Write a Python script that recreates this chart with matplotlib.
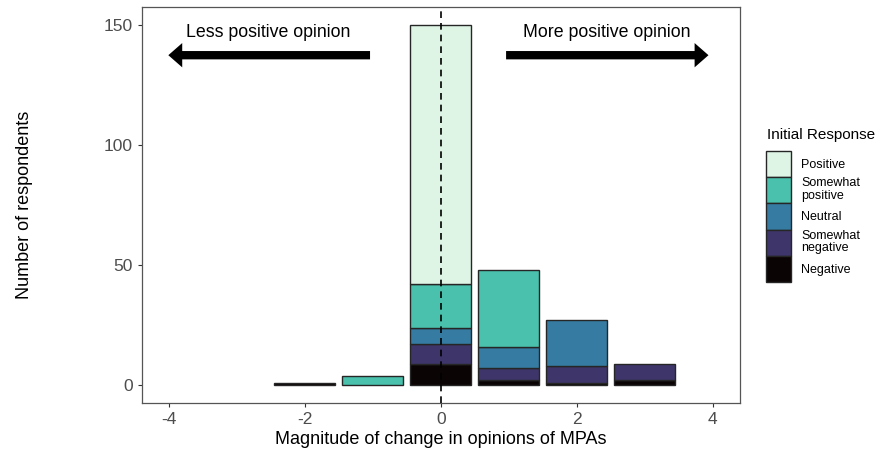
import numpy as np
import matplotlib
matplotlib.use("Agg")
import matplotlib.pyplot as plt
from matplotlib.patches import Patch, FancyArrowPatch

plt.rcParams["font.family"] = ["Liberation Sans", "DejaVu Sans"]
plt.rcParams["axes.unicode_minus"] = False

# change in opinion (x) and counts per initial response
CHANGE = [-2, -1, 0, 1, 2, 3]
NEGATIVE = [1, 0, 9, 2, 1, 2]
SOMEWHAT_NEGATIVE = [0, 0, 8, 5, 7, 7]
NEUTRAL = [0, 0, 7, 9, 19, 0]
SOMEWHAT_POSITIVE = [0, 4, 18, 32, 0, 0]
POSITIVE = [0, 0, 108, 0, 0, 0]

LABELS = ["Negative", "Somewhat\nnegative", "Neutral", "Somewhat\npositive", "Positive"]
COLORS = ["#0b0405", "#3e356b", "#357ba2", "#49c1ad", "#def5e5"]

ARROW_Y = 137.5
LEFT_ARROW = (-1.0, -4.05)
RIGHT_ARROW = (0.92, 3.98)
TEXT_Y = 147
LEFT_TEXT_X = -2.54
RIGHT_TEXT_X = 2.44


def main():
    fig = plt.figure(figsize=(8.86, 4.5), dpi=100)
    ax = fig.add_axes([0.160, 0.104, 0.675, 0.880])

    series = [NEGATIVE, SOMEWHAT_NEGATIVE, NEUTRAL, SOMEWHAT_POSITIVE, POSITIVE]
    x = np.array(CHANGE, dtype=float)
    bottom = np.zeros(len(x))
    for values, color in zip(series, COLORS):
        v = np.array(values, dtype=float)
        mask = v > 0
        ax.bar(x[mask], v[mask], bottom=bottom[mask], width=0.9, color=color,
               edgecolor="#262626", linewidth=1.0, zorder=2)
        bottom += v

    ax.axvline(0, color="black", linestyle=(0, (4, 3)), linewidth=1.2, zorder=3)

    for x0, x1 in [LEFT_ARROW, RIGHT_ARROW]:
        arr = FancyArrowPatch((x0, ARROW_Y), (x1, ARROW_Y),
                              arrowstyle="simple,head_length=1.0,head_width=1.75,tail_width=0.6",
                              mutation_scale=10, color="black", linewidth=0, zorder=4)
        ax.add_patch(arr)
    ax.text(LEFT_TEXT_X, TEXT_Y, "Less positive opinion", ha="center", va="center", fontsize=12.8)
    ax.text(RIGHT_TEXT_X, TEXT_Y, "More positive opinion", ha="center", va="center", fontsize=12.8)

    ax.set_xlim(-4.4, 4.4)
    ax.set_ylim(-7.5, 157.5)
    ax.set_xticks([-4, -2, 0, 2, 4])
    ax.set_yticks([0, 50, 100, 150])
    ax.tick_params(colors="#333333", labelcolor="#4d4d4d", labelsize=12.5, length=3, width=0.8)
    for s in ax.spines.values():
        s.set_color("#555555")
        s.set_linewidth(0.9)

    ax.set_xlabel("Magnitude of change in opinions of MPAs", fontsize=13, labelpad=3)
    ax.set_ylabel("Number of respondents", fontsize=13)
    ax.yaxis.set_label_coords(-0.182, 0.5)

    # legend: title as separate text so the gap above the keys matches
    fig.text(0.8655, 1 - 135 / 450, "Initial Response", fontsize=11, ha="left", va="center")
    handles = [Patch(facecolor=c, edgecolor="#262626", linewidth=1.0) for c in COLORS][::-1]
    leg = fig.legend(handles, LABELS[::-1], loc="upper left",
                     bbox_to_anchor=(0.8648, 1 - 151 / 450), frameon=False, fontsize=9,
                     handlelength=2.0, handleheight=2.85,
                     labelspacing=0.0, handletextpad=0.8, borderpad=0, borderaxespad=0)
    for t in leg.get_texts():
        t.set_linespacing(1.05)

    fig.savefig("out.png", dpi=100)
    plt.close(fig)


if __name__ == "__main__":
    main()
